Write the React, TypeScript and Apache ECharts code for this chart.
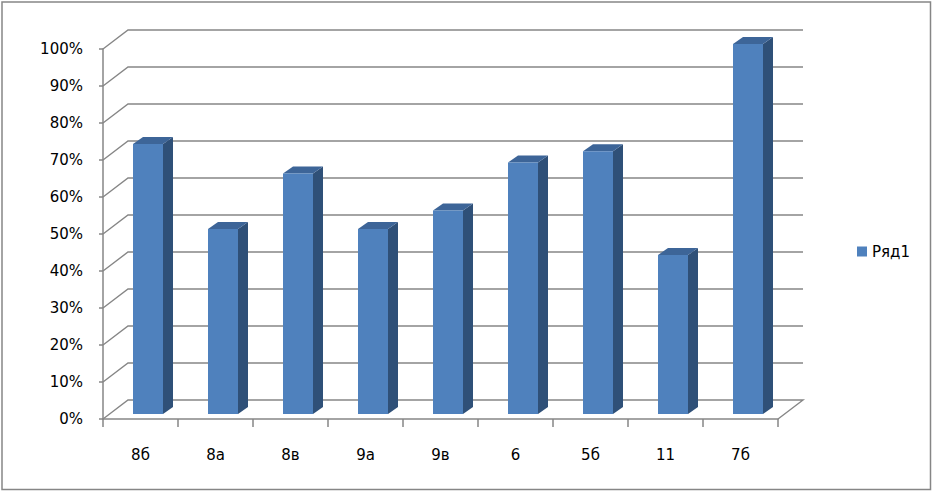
import React, { useEffect, useRef } from "react";
import * as echarts from "echarts";

const categories = ["8б", "8а", "8в", "9а", "9в", "6", "5б", "11", "7б"];
const values = [73, 50, 65, 50, 55, 68, 71, 43, 100];
const yTicks = [0, 10, 20, 30, 40, 50, 60, 70, 80, 90, 100];
const seriesName = "Ряд1";

const DX = 25;
const DY = -19;
const OX = 7.5;
const OY = -5;
const SX = 10;
const SY = -7;
const FONT = "DejaVu Sans";

export default function App() {
  const ref = useRef<HTMLDivElement>(null);
  useEffect(() => {
    document.body.style.margin = "0";
    const chart = echarts.init(ref.current!, null, { renderer: "svg" });
    chart.setOption({
      animation: false,
      backgroundColor: "#ffffff",
      graphic: [
        {
          type: "rect",
          shape: { x: 2, y: 2, width: 928.5, height: 487.5 },
          style: { fill: "none", stroke: "#868686", lineWidth: 1.5 },
          silent: true,
        },
      ],
      legend: {
        data: [seriesName],
        left: 852,
        top: 239,
        icon: "rect",
        itemWidth: 10,
        itemHeight: 10,
        itemGap: 5,
        textStyle: { fontFamily: FONT, fontSize: 15, color: "#000" },
      },
      grid: { left: 103, right: 155, top: 49, bottom: 73 },
      xAxis: {
        type: "category",
        data: categories,
        boundaryGap: true,
        axisLine: { lineStyle: { color: "#868686", width: 1.5 } },
        axisTick: { show: true, length: 8, lineStyle: { color: "#868686", width: 1.5 } },
        axisLabel: { margin: 28, fontFamily: FONT, fontSize: 15, color: "#000" },
      },
      yAxis: {
        type: "value",
        min: 0,
        max: 100,
        interval: 10,
        splitLine: { show: false },
        axisLine: { show: true, lineStyle: { color: "#868686", width: 1.5 } },
        axisTick: { show: true, length: 4, lineStyle: { color: "#868686", width: 1.5 } },
        axisLabel: { margin: 20, formatter: "{value}%", fontFamily: FONT, fontSize: 15, color: "#000" },
      },
      series: [
        {
          type: "custom",
          name: "walls",
          z: 1,
          silent: true,
          data: yTicks.map((v) => [0, v]),
          encode: { x: 0, y: 1 },
          renderItem: (params: any, api: any) => {
            const v = api.value(1);
            const cs = params.coordSys;
            const y = api.coord([0, v])[1];
            const x0 = cs.x;
            const x1 = cs.x + cs.width;
            const pts: number[][] = [
              [x0, y],
              [x0 + DX, y + DY],
              [x1 + DX, y + DY],
            ];
            if (v === 0) pts.push([x1, y]);
            return {
              type: "polyline",
              shape: { points: pts },
              style: { stroke: "#868686", lineWidth: 1.4, fill: "none" },
            };
          },
        },
        {
          type: "custom",
          name: seriesName,
          z: 3,
          itemStyle: { color: "#4F81BD" },
          data: values.map((v, i) => [i, v]),
          encode: { x: 0, y: 1 },
          renderItem: (params: any, api: any) => {
            const idx = api.value(0);
            const v = api.value(1);
            const base = api.coord([idx, 0]);
            const top = api.coord([idx, v]);
            const w = api.size([1, 0])[0] * 0.4;
            const xl = base[0] - w / 2 + OX;
            const xr = base[0] + w / 2 + OX;
            const yb = base[1] + OY;
            const yt = top[1] + OY;
            return {
              type: "group",
              children: [
                {
                  type: "polygon",
                  shape: { points: [[xr, yt], [xr, yb], [xr + SX, yb + SY], [xr + SX, yt + SY]] },
                  style: { fill: "#2F5078" },
                },
                {
                  type: "polygon",
                  shape: { points: [[xl, yt], [xr, yt], [xr + SX, yt + SY], [xl + SX, yt + SY]] },
                  style: { fill: "#3D6598" },
                },
                {
                  type: "rect",
                  shape: { x: xl, y: yt, width: xr - xl, height: yb - yt },
                  style: { fill: "#4F81BD" },
                },
              ],
            };
          },
        },
      ],
    });
    return () => chart.dispose();
  }, []);
  return <div ref={ref} style={{ width: 933, height: 492 }} />;
}
